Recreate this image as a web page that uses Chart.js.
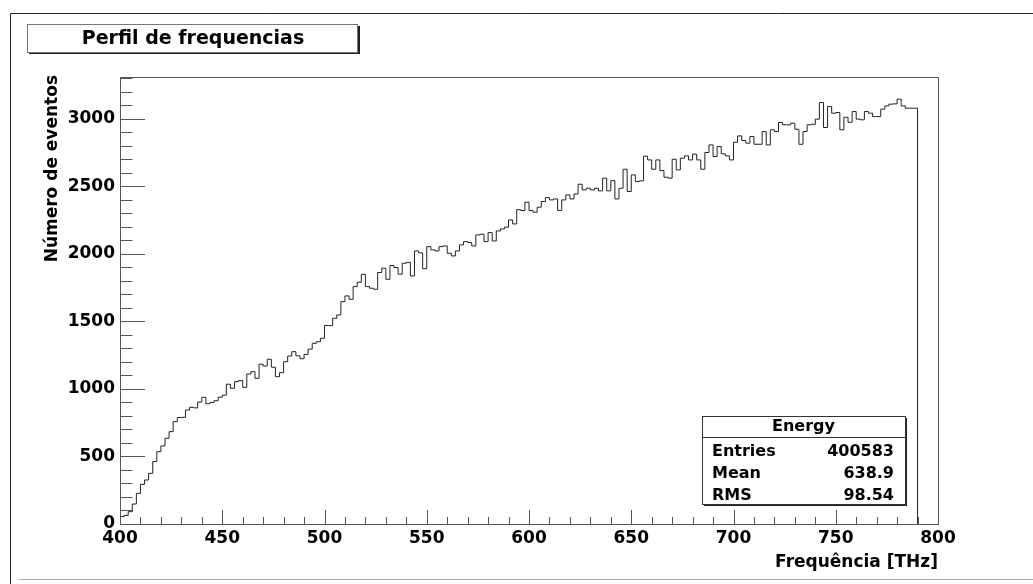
<!DOCTYPE html>
<html>
<head>
<meta charset="utf-8">
<script src="https://cdn.jsdelivr.net/npm/chart.js@4"></script>
<style>
  body { margin: 0; background: #fff; }
  canvas { display: block; }
</style>
</head>
<body>
<canvas id="histo" width="1033" height="584"></canvas>
<script>
const histTitle = 'Perfil de frequencias';
const xTitle = 'Frequência [THz]';
const yTitle = 'Número de eventos';

// binning of the histogram (THz)
const binStart = 400;
const binWidth = 2;
// counts per bin
const counts = [
  49, 55, 64, 91, 148, 227, 294, 326, 375, 462,
  536, 578, 635, 684, 758, 788, 790, 844, 864, 860,
  903, 938, 891, 900, 913, 939, 954, 1035, 1005, 1054,
  1062, 1012, 1111, 1128, 1079, 1183, 1170, 1220, 1161, 1091,
  1121, 1202, 1244, 1276, 1245, 1224, 1256, 1295, 1338, 1350,
  1375, 1470, 1469, 1523, 1548, 1647, 1689, 1664, 1758, 1790,
  1849, 1758, 1746, 1738, 1862, 1894, 1812, 1914, 1899, 1850,
  1931, 1937, 1837, 2022, 2008, 1891, 2054, 2030, 2022, 2054,
  2059, 2005, 1985, 2022, 2067, 2091, 2084, 2059, 2141, 2146,
  2091, 2158, 2096, 2170, 2185, 2198, 2252, 2222, 2328, 2321,
  2383, 2321, 2309, 2346, 2388, 2417, 2400, 2407, 2321, 2400,
  2437, 2407, 2444, 2516, 2474, 2486, 2474, 2486, 2467, 2561,
  2467, 2543, 2407, 2486, 2627, 2462, 2585, 2536, 2541, 2724,
  2696, 2627, 2696, 2617, 2568, 2561, 2701, 2622, 2709, 2726,
  2696, 2739, 2696, 2627, 2751, 2807, 2721, 2795, 2741, 2726,
  2696, 2827, 2874, 2840, 2820, 2869, 2812, 2812, 2906, 2807,
  2919, 2906, 2973, 2956, 2956, 2968, 2923, 2812, 2906, 2956,
  2960, 2998, 3121, 2936, 3091, 3042, 3047, 2919, 3012, 2975,
  3054, 2998, 2993, 3054, 3042, 3017, 3017, 3072, 3096, 3109,
  3111, 3146, 3096, 3079, 3079
];

// axis tick labels
const xTickValues = [400, 450, 500, 550, 600, 650, 700, 750, 800];
const yTickValues = [0, 500, 1000, 1500, 2000, 2500, 3000];

// stats box
const statsName = 'Energy';
const statsLabels = ['Entries', 'Mean', 'RMS'];
const statsValues = ['400583', '638.9', '98.54'];

const xMin = 400, xMax = 800;
const yMin = 0, yMax = 3310;

const FONT = 'DejaVu Sans';

// build step points: left edge of every bin, then close at the last edge
const binEnd = binStart + counts.length * binWidth;
const points = [{x: binStart, y: 0}];
counts.forEach((c, i) => points.push({x: binStart + i * binWidth, y: c}));
points.push({x: binEnd, y: counts[counts.length - 1]});
points.push({x: binEnd, y: 0});

const rootDecor = {
    id: 'rootDecor',
    afterDraw(chart) {
        const ctx = chart.ctx;
        const area = chart.chartArea;
        const xs = chart.scales.x;
        const ys = chart.scales.y;
        ctx.save();

        // canvas border
        ctx.strokeStyle = '#222';
        ctx.lineWidth = 1;
        ctx.beginPath();
        ctx.moveTo(10.5, 584);
        ctx.lineTo(10.5, 13.5);
        ctx.lineTo(1033, 13.5);
        ctx.stroke();
        ctx.strokeStyle = '#aaa';
        ctx.beginPath();
        ctx.moveTo(19, 579.5);
        ctx.lineTo(1033, 579.5);
        ctx.stroke();

        // frame
        ctx.strokeStyle = '#555';
        ctx.strokeRect(Math.round(area.left) + 0.5, Math.round(area.top) + 0.5,
            Math.round(area.right - area.left), Math.round(area.bottom - area.top));

        // ticks, drawn inside the frame
        ctx.beginPath();
        for (let v = xMin; v <= xMax; v += 10) {
            const px = Math.round(xs.getPixelForValue(v)) + 0.5;
            const len = (v % 50 === 0) ? 14 : 7;
            ctx.moveTo(px, area.bottom);
            ctx.lineTo(px, area.bottom - len);
        }
        for (let v = 0; v <= yMax; v += 100) {
            const py = Math.round(ys.getPixelForValue(v)) + 0.5;
            const len = (v % 500 === 0) ? 25 : 12.5;
            ctx.moveTo(area.left, py);
            ctx.lineTo(area.left + len, py);
        }
        ctx.stroke();

        // title box with shadow
        ctx.fillStyle = '#fff';
        ctx.fillRect(27, 24, 331, 28);
        ctx.fillStyle = '#222';
        ctx.fillRect(358, 26, 2, 28);
        ctx.fillRect(29, 52, 331, 2);
        ctx.strokeStyle = '#777';
        ctx.strokeRect(27.5, 24.5, 330, 28);
        ctx.fillStyle = '#000';
        ctx.font = 'bold 19px "' + FONT + '"';
        ctx.textAlign = 'center';
        ctx.textBaseline = 'middle';
        ctx.fillText(histTitle, 193, 39);

        // axis titles
        ctx.font = 'bold 17px "' + FONT + '"';
        ctx.textAlign = 'right';
        ctx.fillText(xTitle, area.right, 563);
        ctx.save();
        ctx.translate(53, area.top - 2);
        ctx.rotate(-Math.PI / 2);
        ctx.textAlign = 'right';
        ctx.fillText(yTitle, 0, 0);
        ctx.restore();

        // stats box
        const bx = 702, by = 416, bw = 203, bh = 88;
        ctx.fillStyle = '#fff';
        ctx.fillRect(bx, by, bw, bh);
        ctx.fillStyle = '#222';
        ctx.fillRect(bx + bw, by + 2, 2, bh);
        ctx.fillRect(bx + 2, by + bh, bw, 2);
        ctx.strokeStyle = '#333';
        ctx.strokeRect(bx + 0.5, by + 0.5, bw, bh);
        ctx.beginPath();
        ctx.moveTo(bx, 437.5);
        ctx.lineTo(bx + bw, 437.5);
        ctx.stroke();
        ctx.fillStyle = '#000';
        ctx.font = 'bold 16px "' + FONT + '"';
        ctx.textAlign = 'center';
        ctx.fillText(statsName, bx + bw / 2, 427);
        const rowY = [452, 474, 496];
        statsLabels.forEach((lab, i) => {
            ctx.textAlign = 'left';
            ctx.fillText(lab, 712, rowY[i]);
            ctx.textAlign = 'right';
            ctx.fillText(statsValues[i], 894, rowY[i]);
        });

        ctx.restore();
    }
};

new Chart(document.getElementById('histo').getContext('2d'), {
    type: 'line',
    data: {
        datasets: [{
            label: statsName,
            data: points,
            stepped: 'after',
            borderColor: '#222',
            borderWidth: 1,
            pointRadius: 0,
            fill: false,
            tension: 0
        }]
    },
    options: {
        responsive: false,
        animation: false,
        events: [],
        layout: {
            padding: {left: 0, top: 77, right: 95, bottom: 0}
        },
        plugins: {
            legend: {display: false},
            title: {display: false},
            tooltip: {enabled: false}
        },
        scales: {
            x: {
                type: 'linear',
                min: xMin,
                max: xMax,
                grid: {display: false, drawTicks: false},
                border: {display: false},
                afterBuildTicks(scale) {
                    scale.ticks = xTickValues.map(v => ({value: v}));
                },
                ticks: {
                    maxRotation: 0,
                    autoSkip: false,
                    padding: 4,
                    color: '#000',
                    font: {family: FONT, size: 17, weight: 'bold'},
                    callback: v => String(v)
                },
                afterFit(scale) { scale.height = 60; }
            },
            y: {
                type: 'linear',
                min: yMin,
                max: yMax,
                grid: {display: false, drawTicks: false},
                border: {display: false},
                afterBuildTicks(scale) {
                    scale.ticks = yTickValues.map(v => ({value: v}));
                },
                ticks: {
                    autoSkip: false,
                    padding: 5,
                    color: '#000',
                    font: {family: FONT, size: 17, weight: 'bold'},
                    callback: v => String(v)
                },
                afterFit(scale) { scale.width = 120; }
            }
        }
    },
    plugins: [rootDecor]
});
</script>
</body>
</html>
